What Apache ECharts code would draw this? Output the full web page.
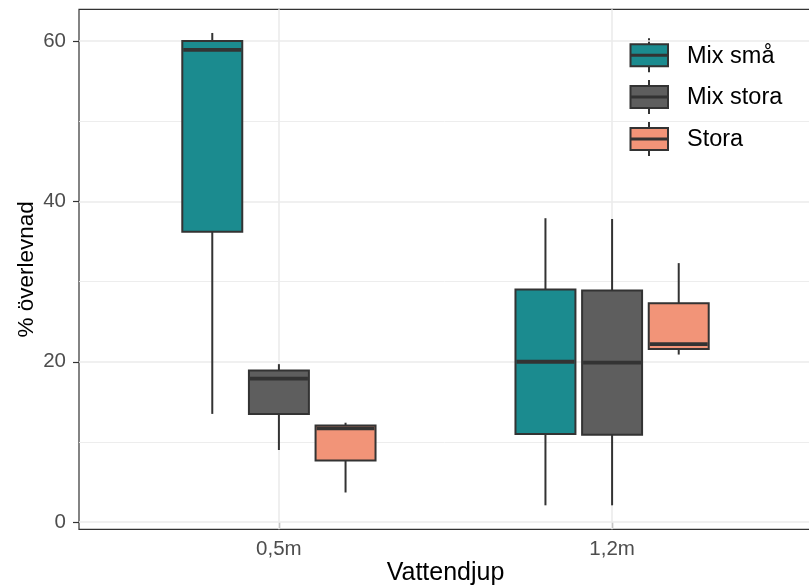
<!DOCTYPE html>
<html>
<head>
<meta charset="utf-8">
<script src="https://cdn.jsdelivr.net/npm/echarts@6/dist/echarts.min.js"></script>
<style>html,body{margin:0;padding:0;background:#fff}#c{width:809px;height:587px}</style>
</head>
<body>
<div id="c"></div>
<script>
// ---- data ----
const categories = ['0,5m', '1,2m'];
const seriesNames = ['Mix små', 'Mix stora', 'Stora'];
// per category: [lower whisker, Q1, median, Q3, upper whisker]
const mixSma   = [[13.5, 36.2, 58.9, 60.0, 61.0], [2.1, 11.0, 20.0, 29.0, 37.9]];
const mixStora = [[9.0, 13.5, 17.9, 18.9, 19.7], [2.1, 10.9, 19.9, 28.9, 37.8]];
const stora    = [[3.7, 7.7, 11.7, 12.05, 12.4], [20.9, 21.6, 22.2, 27.3, 32.3]];
const yTicks = [0, 20, 40, 60];
const yMinor = [10, 30, 50];

// ---- style ----
const colors = ['#1B8B8F', '#5E5E5E', '#F29478'];
const FONT = '"Liberation Sans", Arial, sans-serif';
const DODGE = 0.2, BOX_W = 0.18;
const allSeries = [mixSma, mixStora, stora];

const chart = echarts.init(document.getElementById('c'), null, {renderer: 'canvas'});

function makeSeries(k) {
  const data = allSeries[k].map((v, i) => [i + 1 + (k - 1) * DODGE].concat(v));
  return {
    type: 'custom', name: seriesNames[k], z: 3,
    encode: {x: 0, y: [1, 2, 3, 4, 5]},
    data: data,
    renderItem: function (params, api) {
      const x = api.value(0);
      const lo = api.coord([x, api.value(1)]);
      const q1 = api.coord([x, api.value(2)]);
      const md = api.coord([x, api.value(3)]);
      const q3 = api.coord([x, api.value(4)]);
      const hi = api.coord([x, api.value(5)]);
      const w = api.size([BOX_W, 0])[0];
      const cx = lo[0];
      const ls = {stroke: '#333333', lineWidth: 2};
      return {type: 'group', children: [
        {type: 'line', shape: {x1: cx, y1: hi[1], x2: cx, y2: q3[1]}, style: ls},
        {type: 'line', shape: {x1: cx, y1: q1[1], x2: cx, y2: lo[1]}, style: ls},
        {type: 'rect', shape: {x: cx - w / 2, y: q3[1], width: w, height: q1[1] - q3[1]},
          style: {fill: colors[k], stroke: '#333333', lineWidth: 2}},
        {type: 'line', shape: {x1: cx - w / 2 + 1, y1: md[1], x2: cx + w / 2 - 1, y2: md[1]},
          style: {stroke: '#333333', lineWidth: 3.8}}
      ]};
    }
  };
}

const series = [0, 1, 2].map(makeSeries);
// grid lines through markLine on the first series
series[0].markLine = {
  silent: true, symbol: 'none', z: 1, label: {show: false}, animation: false,
  data: yTicks.map(v => ({yAxis: v, lineStyle: {color: '#EBEBEB', width: 1.6, type: 'solid'}}))
    .concat(yMinor.map(v => ({yAxis: v, lineStyle: {color: '#EBEBEB', width: 0.9, type: 'solid'}})))
    .concat(categories.map((c, i) => ({xAxis: i + 1, lineStyle: {color: '#EBEBEB', width: 1.6, type: 'solid'}})))
};

// legend drawn as ggplot-like keys
const legendChildren = [
  {type: 'rect', shape: {x: 612, y: 30, width: 185, height: 135}, style: {fill: '#ffffff'}}
];
const keyY = [55.3, 97, 139];
seriesNames.forEach((n, k) => {
  const cy = keyY[k];
  legendChildren.push(
    {type: 'line', shape: {x1: 649, y1: cy - 17, x2: 649, y2: cy + 17}, style: {stroke: '#333333', lineWidth: 2}},
    {type: 'rect', shape: {x: 630.5, y: cy - 11, width: 37.5, height: 22}, style: {fill: colors[k], stroke: '#333333', lineWidth: 2}},
    {type: 'line', shape: {x1: 631, y1: cy, x2: 667.5, y2: cy}, style: {stroke: '#333333', lineWidth: 3}},
    {type: 'text', x: 687, y: cy + 1, style: {text: n, fontSize: 23.5, fontFamily: FONT, fill: '#000000', verticalAlign: 'middle', align: 'left'}}
  );
});

const option = {
  animation: false,
  backgroundColor: '#ffffff',
  grid: {left: 79, top: 9.3, width: 733, height: 520, show: true, borderColor: '#333333', borderWidth: 1.2,
    backgroundColor: '#ffffff', containLabel: false, outerBoundsMode: 'none'},
  xAxis: {
    type: 'value', min: 0.4, max: 2.6,
    name: 'Vattendjup', nameLocation: 'middle', nameGap: 31, nameMoveOverlap: false,
    nameTextStyle: {fontSize: 25, fontFamily: FONT, color: '#000000'},
    axisLine: {show: false},
    axisTick: {show: true, length: 6, customValues: [1, 2], lineStyle: {color: '#333333', width: 1.2}},
    axisLabel: {show: true, customValues: [1, 2], margin: 10, fontSize: 20.5, fontFamily: FONT, color: '#4D4D4D',
      formatter: v => categories[Math.round(v) - 1] || ''},
    splitLine: {show: false}
  },
  yAxis: {
    type: 'value', min: -0.89, max: 63.95,
    name: '% överlevnad', nameLocation: 'middle', nameGap: 41, nameRotate: 90, nameMoveOverlap: false,
    nameTextStyle: {fontSize: 22.5, fontFamily: FONT, color: '#000000'},
    axisLine: {show: false},
    axisTick: {show: true, length: 6, customValues: yTicks, lineStyle: {color: '#333333', width: 1.2}},
    axisLabel: {show: true, customValues: yTicks, margin: 13, fontSize: 20.5, fontFamily: FONT, color: '#4D4D4D'},
    splitLine: {show: false}
  },
  series: series,
  graphic: [{type: 'group', z: 100, children: legendChildren}]
};
chart.setOption(option);
</script>
</body>
</html>
